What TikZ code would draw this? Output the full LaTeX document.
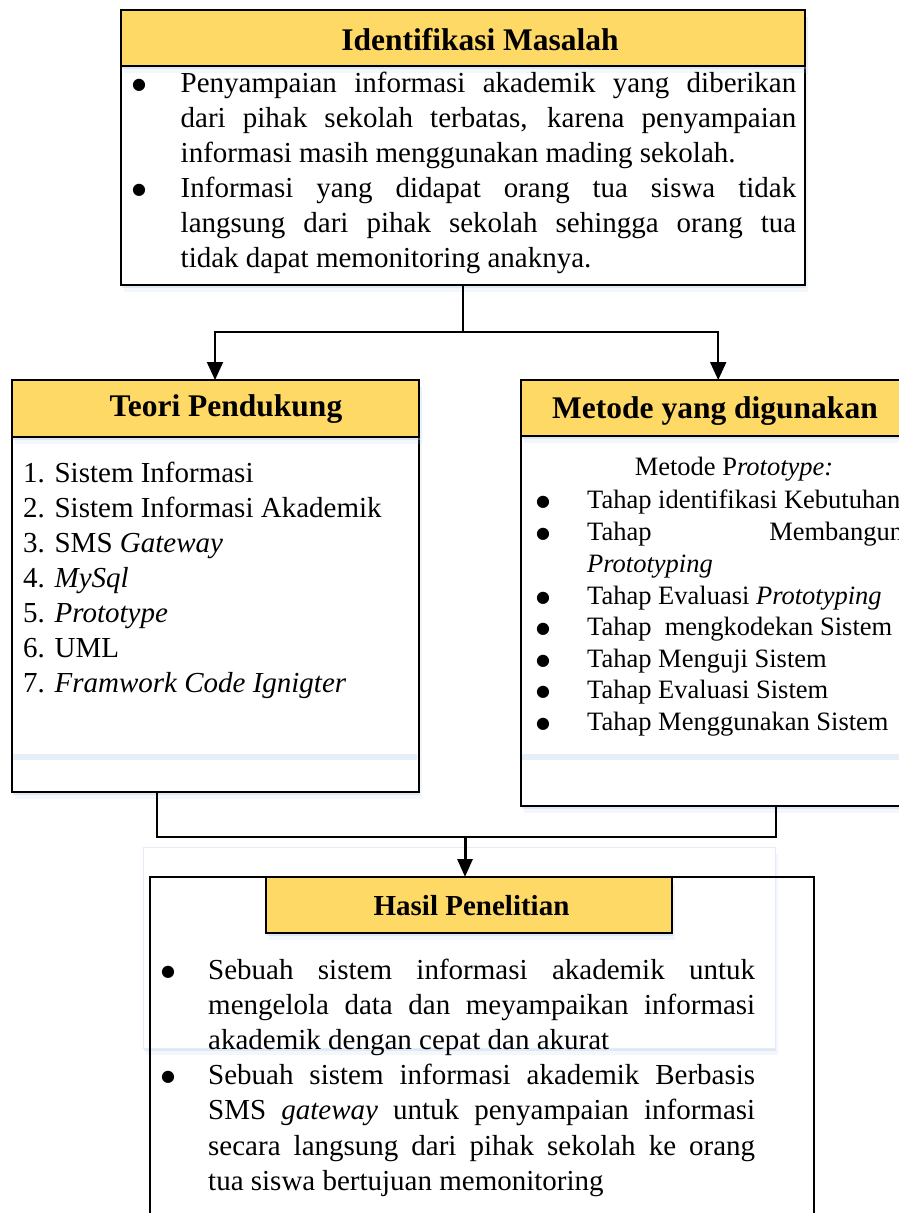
\documentclass[tikz,border=0pt]{standalone}
\usepackage{fontspec}
\setmainfont{Liberation Serif}
\newfontfamily\dotfont{DejaVu Sans}
\usetikzlibrary{arrows.meta,shadows}

\definecolor{hdr}{RGB}{255,217,102}
\definecolor{glowc}{RGB}{175,200,232}

\newcommand\bodysize{\fontsize{29pt}{35pt}\selectfont}
\newcommand\listsize{\fontsize{26.5pt}{32pt}\selectfont}
\newcommand\headsize{\fontsize{31.5pt}{38pt}\selectfont\bfseries}
\newcommand\hasilsize{\fontsize{29pt}{35pt}\selectfont\bfseries}
% list bullet: a solid round dot
\newcommand\bigbul[1]{\raisebox{#1}{\dotfont\fontsize{16pt}{18pt}\selectfont ●}}

\tikzset{
  glow/.style={
    drop shadow={shadow xshift=1pt, shadow yshift=-3pt, fill=glowc, opacity=0.30},
    drop shadow={shadow xshift=3pt, shadow yshift=-7pt, fill=glowc, opacity=0.15}},
  panel/.style={rectangle, draw=black, line width=2pt, fill=white,
    inner sep=0pt, outer sep=0pt, anchor=north west, glow},
  headbar/.style={rectangle, draw=black, line width=2pt, fill=hdr,
    inner sep=0pt, outer sep=0pt, anchor=north west, glow},
  heading/.style={anchor=base, inner sep=0pt, font=\headsize},
  bodyline/.style={anchor=base west, inner sep=0pt, font=\bodysize},
  listline/.style={anchor=base west, inner sep=0pt, font=\listsize},
  dotmark/.style={anchor=base, inner sep=0pt},
  wire/.style={draw=black, line width=2pt},
  feed/.style={wire, -{Triangle[width=16pt,length=18pt]}},
  bigfeed/.style={draw=black, line width=3pt, -{Triangle[width=15pt,length=18pt]}},
  inband/.style={fill=glowc, opacity=0.30},
}

\begin{document}
\begin{tikzpicture}[x=1pt, y=-1pt]
\path[use as bounding box] (0,0) rectangle (899,1213);
\begin{scope}
\clip (0,0) rectangle (899,1213);

% ---------- Identifikasi Masalah ----------
\node[panel, minimum width=684pt, minimum height=275pt] (ident) at (121,10) {};
\node[headbar, minimum width=684pt, minimum height=56pt] (identhead) at (121,10) {};
\node[heading] (identtitle) at (480,50) {Identifikasi Masalah};

\node[dotmark] (ib1) at (139,92) {\bigbul{2.5pt}};
\node[bodyline] (il1) at (180.5,92) {\makebox[615.5pt][s]{Penyampaian informasi akademik yang diberikan}};
\node[bodyline] (il2) at (180.5,127) {\makebox[615.5pt][s]{dari pihak sekolah terbatas, karena penyampaian}};
\node[bodyline] (il3) at (180.5,162) {informasi masih menggunakan mading sekolah.};
\node[dotmark] (ib2) at (139,197) {\bigbul{2.5pt}};
\node[bodyline] (il4) at (180.5,197) {\makebox[615.5pt][s]{Informasi yang didapat orang tua siswa tidak}};
\node[bodyline] (il5) at (180.5,232) {\makebox[615.5pt][s]{langsung dari pihak sekolah sehingga orang tua}};
\node[bodyline] (il6) at (180.5,267) {tidak dapat memonitoring anaknya.};

% ---------- Teori Pendukung ----------
\node[panel, minimum width=407pt, minimum height=412pt] (teori) at (11.5,380) {};
\fill[inband] (13,754) rectangle (417,760);
\node[headbar, minimum width=407pt, minimum height=57pt] (teorihead) at (11.5,380) {};
\node[heading] (teorititle) at (226,416) {Teori Pendukung};

\node[bodyline] (t1) at (23,482) {1. Sistem Informasi};
\node[bodyline] (t2) at (23,517) {2. Sistem Informasi Akademik};
\node[bodyline] (t3) at (23,552) {3. SMS \textit{Gateway}};
\node[bodyline] (t4) at (23,587) {4. \textit{MySql}};
\node[bodyline] (t5) at (23,622) {5. \textit{Prototype}};
\node[bodyline] (t6) at (23,657) {6. UML};
\node[bodyline] (t7) at (23,692) {7. \textit{Framwork Code Ignigter}};

% ---------- Metode yang digunakan ----------
\node[panel, minimum width=395pt, minimum height=426pt] (metode) at (520.7,380) {};
\fill[inband] (522,754) rectangle (912,760);
\node[headbar, minimum width=395pt, minimum height=56pt] (metodehead) at (520.7,380) {};
\node[heading] (metodetitle) at (715,418) {Metode yang digunakan};

\node[anchor=base, inner sep=0pt, font=\listsize] (m0) at (734,475) {Metode P\textit{rototype:}};
\node[dotmark] (mb1) at (543,508) {\bigbul{2pt}};
\node[listline] (m1) at (587,508) {Tahap identifikasi Kebutuhan};
\node[dotmark] (mb2) at (543,540) {\bigbul{2pt}};
\node[listline] (m2) at (587,540) {\makebox[316pt][s]{Tahap Membangun}};
\node[listline] (m2b) at (587,572) {\textit{Prototyping}};
\node[dotmark] (mb3) at (543,604) {\bigbul{2pt}};
\node[listline] (m3) at (587,604) {Tahap Evaluasi \textit{Prototyping}};
\node[dotmark] (mb4) at (543,635) {\bigbul{2pt}};
\node[listline] (m4) at (587,635) {Tahap\ \ mengkodekan Sistem};
\node[dotmark] (mb5) at (543,667) {\bigbul{2pt}};
\node[listline] (m5) at (587,667) {Tahap Menguji Sistem};
\node[dotmark] (mb6) at (543,698) {\bigbul{2pt}};
\node[listline] (m6) at (587,698) {Tahap Evaluasi Sistem};
\node[dotmark] (mb7) at (543,730) {\bigbul{2pt}};
\node[listline] (m7) at (587,730) {Tahap Menggunakan Sistem};

% ---------- Hasil Penelitian ----------
\node[rectangle, fill=white, draw=glowc!35, line width=0.8pt, inner sep=0pt,
      anchor=north west, glow, minimum width=632pt, minimum height=201pt] (hasilglow) at (143,847) {};
\node[rectangle, draw=black, line width=1.8pt, inner sep=0pt, anchor=north west,
      minimum width=664pt, minimum height=420pt] (hasil) at (149,876) {};
\node[headbar, minimum width=406pt, minimum height=56pt] (hasilhead) at (266,877) {};
\node[heading, font=\hasilsize] (hasiltitle) at (471.5,915) {Hasil Penelitian};

\node[dotmark] (hb1) at (168,979) {\bigbul{2.5pt}};
\node[bodyline] (h1) at (208,979) {\makebox[547pt][s]{Sebuah sistem informasi akademik untuk}};
\node[bodyline] (h2) at (208,1014) {\makebox[547pt][s]{mengelola data dan meyampaikan informasi}};
\node[bodyline] (h3) at (208,1049) {akademik dengan cepat dan akurat};
\node[dotmark] (hb2) at (168,1084) {\bigbul{2.5pt}};
\node[bodyline] (h4) at (208,1084) {\makebox[547pt][s]{Sebuah sistem informasi akademik Berbasis}};
\node[bodyline] (h5) at (208,1119) {\makebox[547pt][s]{SMS \textit{gateway} untuk penyampaian informasi}};
\node[bodyline] (h6) at (208,1155) {\makebox[547pt][s]{secara langsung dari pihak sekolah ke orang}};
\node[bodyline] (h7) at (208,1190) {tua siswa bertujuan memonitoring};

% ---------- connectors ----------
\coordinate (fork) at (463,332);
\draw[draw=black, line width=1.3pt] (ident.south) -- (fork);
\draw[feed] (fork) -| (teorihead.north);
\draw[feed] (fork) -| (metodehead.north);

\coordinate (jl) at (157,837);
\coordinate (jr) at (776,837);
\coordinate (join) at (465,837);
\draw[wire] (teori.south -| jl) -- (jl) -- (jr) -- (metode.south -| jr);
\draw[bigfeed] (join) -- (join |- hasilhead.north);

\end{scope}
\end{tikzpicture}
\end{document}
